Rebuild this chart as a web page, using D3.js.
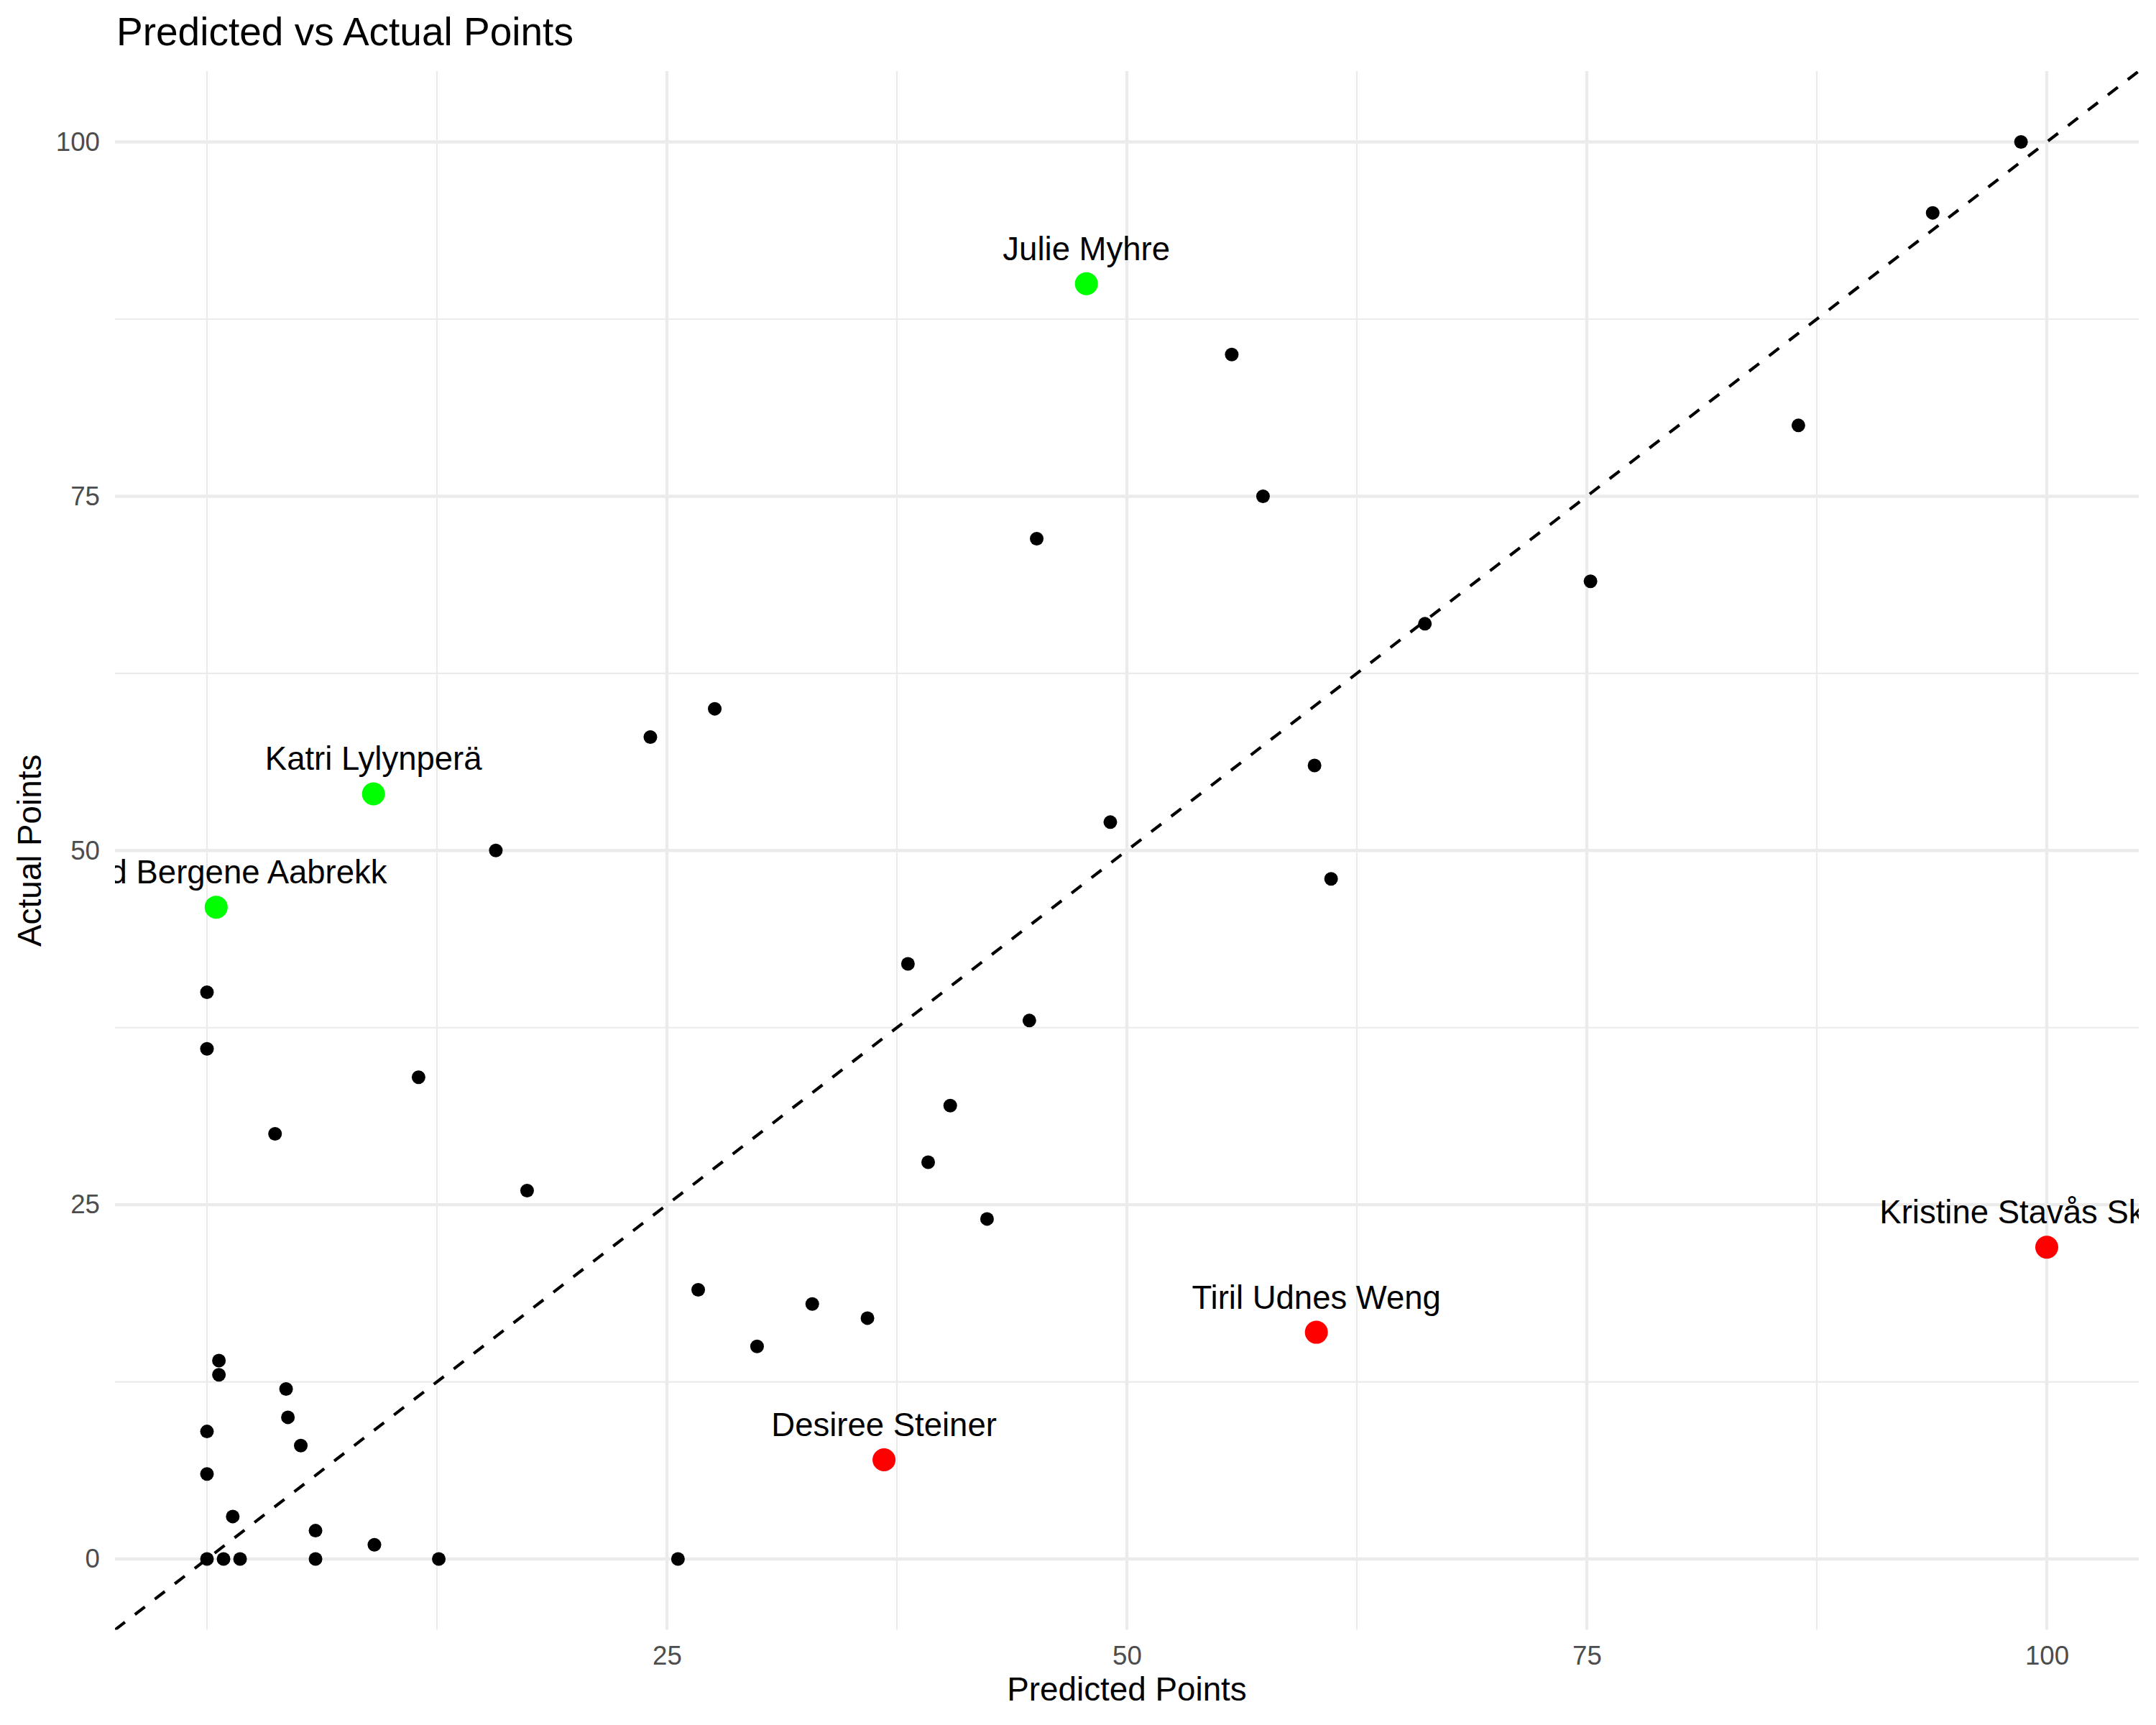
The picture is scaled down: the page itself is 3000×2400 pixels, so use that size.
<!DOCTYPE html>
<html>
<head>
<meta charset="utf-8">
<script src="https://cdn.jsdelivr.net/npm/d3@7"></script>
<style>
  html, body { margin: 0; padding: 0; background: #ffffff; }
  svg { display: block; }
  text { font-family: "Liberation Sans", Arial, Helvetica, sans-serif; }
</style>
</head>
<body>
<svg id="chart" width="3000" height="2400"></svg>
<script>
// ---- Data ----
const predicted = [98.6, 93.8, 86.5, 55.7, 57.4, 45.1, 75.2, 66.2, 27.6, 24.1, 60.2, 49.1, 15.7, 61.1, 38.1, 0, 44.7, 0, 11.5, 40.4, 3.7, 39.2, 17.4, 42.4, 26.7, 32.9, 35.9, 29.9, 0.65, 0.65, 4.3, 4.4, 0, 5.1, 0, 1.4, 5.9, 9.1, 0, 0.9, 1.8, 5.9, 12.6, 25.6];
const actual    = [100, 95, 80, 85, 75, 72, 69, 66, 60, 58, 56, 52, 50, 48, 42, 40, 38, 36, 34, 32, 30, 28, 26, 24, 19, 18, 17, 15, 14, 13, 12, 10, 9, 8, 6, 3, 2, 1, 0, 0, 0, 0, 0, 0];

const highlightNames     = ["Julie Myhre", "Katri Lylynperä", "Ingrid Bergene Aabrekk", "Desiree Steiner", "Tiril Udnes Weng", "Kristine Stavås Skistad"];
const highlightPredicted = [47.8, 9.05, 0.5, 36.8, 60.3, 100];
const highlightActual    = [90, 54, 46, 7, 16, 22];
const highlightGroup     = ["over", "over", "over", "under", "under", "under"];

const xTicks = [25, 50, 75, 100];
const xMinor = [0, 12.5, 37.5, 62.5, 87.5];
const yTicks = [0, 25, 50, 75, 100];
const yMinor = [12.5, 37.5, 62.5, 87.5];

const titleText = "Predicted vs Actual Points";
const xTitle = "Predicted Points";
const yTitle = "Actual Points";

// ---- Layout ----
const panel = { left: 160, right: 2976, top: 99, bottom: 2267.6 };
const svg = d3.select("#chart");

const x = d3.scaleLinear().domain([-5, 105]).range([panel.left, panel.right]);
const y = d3.scaleLinear().domain([-5, 105]).range([panel.bottom, panel.top]);
const color = d3.scaleOrdinal().domain(["over", "under"]).range(["#00FF00", "#FF0000"]);

svg.append("defs").append("clipPath").attr("id", "panelClip")
  .append("rect")
  .attr("x", panel.left).attr("y", panel.top)
  .attr("width", panel.right - panel.left).attr("height", panel.bottom - panel.top);

const grid = svg.append("g");
// minor grid
grid.selectAll("line.xminor").data(xMinor).enter().append("line")
  .attr("x1", d => x(d)).attr("x2", d => x(d))
  .attr("y1", panel.top).attr("y2", panel.bottom)
  .attr("stroke", "#EBEBEB").attr("stroke-width", 2.2);
grid.selectAll("line.yminor").data(yMinor).enter().append("line")
  .attr("y1", d => y(d)).attr("y2", d => y(d))
  .attr("x1", panel.left).attr("x2", panel.right)
  .attr("stroke", "#EBEBEB").attr("stroke-width", 2.2);
// major grid
grid.selectAll("line.xmajor").data(xTicks).enter().append("line")
  .attr("x1", d => x(d)).attr("x2", d => x(d))
  .attr("y1", panel.top).attr("y2", panel.bottom)
  .attr("stroke", "#EBEBEB").attr("stroke-width", 4.4);
grid.selectAll("line.ymajor").data(yTicks).enter().append("line")
  .attr("y1", d => y(d)).attr("y2", d => y(d))
  .attr("x1", panel.left).attr("x2", panel.right)
  .attr("stroke", "#EBEBEB").attr("stroke-width", 4.4);

// axes
const xAxis = svg.append("g")
  .attr("transform", `translate(0,${panel.bottom})`)
  .call(d3.axisBottom(x).tickValues(xTicks).tickSize(0).tickPadding(22).tickFormat(d3.format("d")));
const yAxis = svg.append("g")
  .attr("transform", `translate(${panel.left},0)`)
  .call(d3.axisLeft(y).tickValues(yTicks).tickSize(0).tickPadding(21).tickFormat(d3.format("d")));
[xAxis, yAxis].forEach(a => {
  a.select(".domain").remove();
  a.selectAll("text")
    .attr("fill", "#4D4D4D")
    .style("font-size", "36.7px")
    .style("font-family", '"Liberation Sans", Arial, Helvetica, sans-serif');
});

const plot = svg.append("g").attr("clip-path", "url(#panelClip)");

// y = x reference line
plot.append("line")
  .attr("x1", x(-5)).attr("y1", y(-5))
  .attr("x2", x(105)).attr("y2", y(105))
  .attr("stroke", "#000").attr("stroke-width", 4.2)
  .attr("stroke-dasharray", "17.5,17.5");

// all points
const pts = predicted.map((p, i) => ({ p, a: actual[i] }));
plot.selectAll("circle.pt").data(pts).enter().append("circle")
  .attr("cx", d => x(d.p)).attr("cy", d => y(d.a))
  .attr("r", 9.5).attr("fill", "#000");

// highlighted
const hl = highlightNames.map((n, i) => ({ n, p: highlightPredicted[i], a: highlightActual[i], g: highlightGroup[i] }));
plot.selectAll("circle.hl").data(hl).enter().append("circle")
  .attr("cx", d => x(d.p)).attr("cy", d => y(d.a))
  .attr("r", 16).attr("fill", d => color(d.g));

plot.selectAll("text.lbl").data(hl).enter().append("text")
  .attr("x", d => x(d.p)).attr("y", d => y(d.a) - 33)
  .attr("text-anchor", "middle")
  .attr("fill", "#000")
  .style("font-size", "45.5px")
  .text(d => d.n);

// titles
svg.append("text")
  .attr("x", panel.left + 2).attr("y", 63)
  .style("font-size", "55px").attr("fill", "#000")
  .text(titleText);
svg.append("text")
  .attr("x", (panel.left + panel.right) / 2).attr("y", 2366)
  .attr("text-anchor", "middle")
  .style("font-size", "45.8px").attr("fill", "#000")
  .text(xTitle);
svg.append("text")
  .attr("transform", `translate(57,${(panel.top + panel.bottom) / 2}) rotate(-90)`)
  .attr("text-anchor", "middle")
  .style("font-size", "45.8px").attr("fill", "#000")
  .text(yTitle);
</script>
</body>
</html>
